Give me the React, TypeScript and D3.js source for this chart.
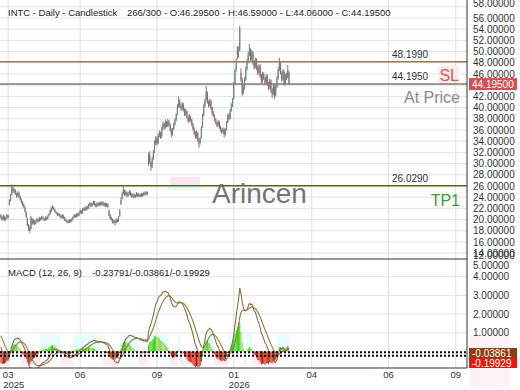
import React from "react";
import * as d3 from "d3";

const opens = [
  20.8, 20.3, 20.1, 20.5, 20.0, 20.3, 20.7, 22.8, 23.4, 24.5,
  25.6, 25.0, 25.2, 24.5, 24.3, 24.7, 24.1, 23.5, 23.1, 22.7,
  22.2, 21.3, 20.2, 18.9, 18.6, 18.4, 20.1, 19.4, 19.7, 19.3,
  19.7, 20.0, 19.8, 20.2, 20.1, 20.4, 20.1, 19.9, 20.3, 20.2,
  20.7, 21.1, 21.5, 22.0, 22.1, 21.7, 21.3, 21.1, 20.9, 20.9,
  20.6, 20.4, 20.7, 20.3, 20.0, 19.8, 19.7, 19.5, 19.9, 19.7,
  20.1, 20.4, 20.8, 20.5, 21.0, 20.7, 21.2, 21.6, 21.3, 21.7,
  22.0, 21.7, 22.3, 22.0, 22.6, 22.9, 22.4, 22.8, 23.2, 22.7,
  22.4, 22.9, 22.6, 23.0, 22.7, 23.1, 22.6, 22.9, 22.4, 22.8,
  21.6, 20.8, 20.3, 20.0, 19.6, 19.8, 19.4, 20.0, 19.8, 20.6,
  22.8, 23.8, 24.8, 25.1, 24.5, 24.8, 24.3, 24.6, 24.9, 24.4,
  24.1, 24.5, 24.0, 24.3, 24.7, 24.2, 24.5, 24.2, 24.6, 24.3,
  24.8, 24.5, 24.9, 30.0, 31.6, 30.0, 29.6, 30.9, 32.2, 33.6,
  34.4, 33.7, 35.0, 35.4, 34.9, 36.3, 37.0, 36.4, 37.4, 36.8,
  37.5, 36.9, 36.0, 35.3, 36.2, 37.0, 37.8, 38.8, 40.4, 41.0,
  40.2, 39.8, 40.5, 39.6, 38.8, 39.3, 38.2, 37.7, 38.3, 37.8,
  37.0, 36.2, 35.5, 34.8, 35.5, 34.2, 33.7, 34.7, 36.6, 38.6,
  40.4, 41.4, 42.6, 41.0, 40.4, 41.1, 39.9, 39.1, 38.5, 37.9,
  37.2, 36.8, 37.4, 36.5, 36.0, 35.6, 36.1, 35.2, 36.1, 37.4,
  38.6, 38.1, 39.6, 40.5, 41.6, 44.4, 46.7, 50.3, 49.6, 50.4,
  46.2, 45.0, 42.8, 43.6, 45.0, 46.9, 48.2, 49.5, 50.3, 48.7,
  49.8, 48.0, 47.3, 48.5, 47.1, 46.2, 47.4, 45.7, 44.8, 46.0,
  45.2, 44.5, 45.6, 44.2, 43.6, 44.8, 43.1, 42.4, 43.8, 42.3,
  43.7, 45.3, 46.8, 47.8, 46.1, 45.1, 46.4, 44.3, 45.7, 45.5, 46.295,
];
const highs = [
  21.0, 20.6, 20.9, 20.7, 20.5, 21.0, 20.9, 23.6, 24.6, 26.3,
  25.9, 25.6, 25.4, 24.8, 25.1, 24.9, 24.3, 23.8, 23.3, 22.9,
  22.4, 21.5, 20.4, 19.2, 18.9, 20.7, 20.3, 20.1, 19.9, 19.9,
  20.3, 20.2, 20.5, 20.4, 20.7, 20.6, 20.3, 20.6, 20.5, 20.8,
  21.2, 21.8, 22.3, 22.6, 22.3, 21.9, 21.5, 21.3, 21.2, 21.1,
  20.8, 21.0, 20.9, 20.5, 20.2, 20.0, 19.9, 20.1, 20.0, 20.3,
  20.6, 21.0, 20.9, 21.2, 21.1, 21.4, 21.8, 21.7, 22.0, 22.2,
  22.2, 22.5, 22.4, 22.8, 23.1, 23.0, 23.0, 23.4, 23.3, 22.9,
  23.1, 23.0, 23.2, 23.1, 23.3, 23.2, 23.1, 23.0, 23.0, 22.9,
  21.8, 21.0, 20.5, 20.2, 20.0, 19.9, 20.2, 20.2, 20.6, 21.9,
  24.0, 25.0, 26.0, 25.4, 25.2, 25.0, 24.9, 25.3, 25.1, 24.7,
  24.7, 24.6, 24.5, 24.9, 24.8, 24.7, 24.6, 24.8, 24.7, 25.0,
  25.0, 25.1, 25.0, 32.0, 32.2, 30.4, 31.2, 32.4, 34.2, 34.9,
  34.8, 35.4, 35.9, 35.7, 36.6, 37.5, 37.3, 37.9, 37.6, 38.0,
  37.8, 37.2, 36.3, 36.4, 37.3, 38.1, 39.0, 40.6, 42.0, 41.5,
  40.6, 41.0, 40.8, 39.9, 39.8, 39.5, 38.6, 38.8, 38.6, 38.0,
  37.3, 36.5, 35.8, 35.9, 35.7, 34.5, 34.8, 36.7, 38.9, 40.6,
  41.6, 43.9, 42.9, 41.3, 41.6, 41.4, 40.2, 39.4, 38.8, 38.1,
  37.5, 37.8, 37.6, 36.8, 36.3, 36.5, 36.4, 36.3, 37.6, 38.9,
  39.0, 39.8, 40.8, 41.7, 44.6, 46.9, 48.8, 51.0, 50.9, 54.6,
  47.0, 45.4, 44.0, 45.4, 47.3, 48.6, 50.0, 51.4, 50.6, 50.3,
  50.1, 48.5, 48.9, 48.8, 47.5, 47.8, 47.7, 46.0, 46.4, 46.3,
  45.5, 46.0, 45.9, 44.6, 45.2, 45.0, 43.5, 44.2, 44.1, 44.0,
  45.6, 47.2, 48.9, 48.1, 46.5, 46.9, 46.7, 46.0, 46.2, 47.6, 46.59,
];
const lows = [
  20.1, 19.8, 19.9, 19.7, 19.8, 20.1, 20.2, 22.5, 23.2, 24.3,
  24.8, 24.7, 24.4, 23.9, 24.1, 23.8, 23.4, 22.8, 22.4, 22.0,
  21.3, 20.3, 18.8, 18.0, 17.6, 18.2, 19.0, 19.2, 19.0, 19.1,
  19.5, 19.5, 19.6, 19.8, 19.9, 20.0, 19.7, 19.8, 19.9, 20.0,
  20.5, 20.9, 21.3, 21.8, 21.6, 21.2, 21.0, 20.6, 20.7, 20.4,
  20.2, 20.2, 20.1, 19.8, 19.6, 19.4, 19.3, 19.4, 19.5, 19.6,
  19.9, 20.3, 20.3, 20.4, 20.5, 20.6, 21.0, 21.0, 21.1, 21.6,
  21.5, 21.6, 21.8, 21.9, 22.4, 22.2, 22.3, 22.6, 22.5, 22.2,
  22.2, 22.4, 22.4, 22.5, 22.5, 22.4, 22.4, 22.2, 22.3, 22.1,
  20.6, 20.0, 19.8, 19.3, 19.3, 18.9, 19.3, 19.5, 19.6, 20.5,
  22.6, 23.6, 24.5, 24.2, 24.3, 24.0, 24.1, 24.4, 24.2, 23.9,
  23.9, 23.8, 23.9, 24.1, 24.0, 24.0, 24.0, 24.0, 24.1, 24.2,
  24.3, 24.4, 24.4, 29.6, 29.9, 28.7, 29.2, 30.6, 31.9, 33.3,
  33.2, 33.5, 34.7, 34.4, 34.6, 36.0, 36.1, 36.2, 36.5, 36.5,
  36.6, 35.7, 34.7, 35.0, 36.0, 36.8, 37.5, 38.6, 40.0, 39.9,
  39.4, 39.5, 39.3, 38.5, 38.5, 38.0, 37.2, 37.4, 37.5, 36.7,
  35.9, 35.1, 34.4, 34.5, 33.9, 32.8, 33.4, 34.5, 36.4, 38.4,
  40.0, 41.1, 40.7, 40.0, 40.2, 39.6, 38.6, 38.3, 37.6, 37.0,
  36.5, 36.6, 36.2, 35.7, 35.3, 35.4, 34.6, 35.0, 35.9, 37.2,
  37.7, 37.9, 39.3, 40.1, 41.4, 44.2, 46.4, 48.6, 48.9, 50.0,
  44.6, 42.0, 42.3, 43.2, 44.7, 46.6, 47.9, 49.2, 48.2, 48.4,
  47.6, 46.8, 47.0, 46.7, 45.8, 45.9, 45.3, 44.3, 44.5, 44.9,
  44.0, 44.2, 43.9, 43.1, 43.3, 42.6, 41.7, 42.2, 41.5, 42.0,
  43.5, 45.0, 46.5, 45.9, 44.6, 44.8, 43.9, 44.0, 44.9, 45.2, 44.06,
];
const closes = [
  20.3, 20.0, 20.6, 19.9, 20.2, 20.8, 20.4, 23.2, 24.3, 25.8,
  25.0, 25.3, 24.6, 24.2, 24.8, 24.0, 23.6, 23.0, 22.6, 22.3,
  21.5, 20.5, 19.0, 18.3, 18.0, 20.4, 19.3, 19.8, 19.2, 19.6,
  20.1, 19.7, 20.3, 20.0, 20.5, 20.2, 19.9, 20.4, 20.1, 20.6,
  21.0, 21.6, 22.0, 22.2, 21.8, 21.4, 21.2, 20.8, 21.0, 20.6,
  20.4, 20.8, 20.3, 20.0, 19.8, 19.6, 19.5, 19.9, 19.7, 20.1,
  20.4, 20.8, 20.5, 21.0, 20.7, 21.2, 21.6, 21.2, 21.8, 22.0,
  21.7, 22.3, 22.0, 22.6, 22.9, 22.4, 22.8, 23.2, 22.7, 22.4,
  22.9, 22.6, 23.0, 22.7, 23.1, 22.6, 22.9, 22.4, 22.8, 22.3,
  20.8, 20.2, 20.0, 19.6, 19.8, 19.4, 20.0, 19.7, 20.4, 21.6,
  23.5, 24.6, 25.3, 24.4, 24.9, 24.2, 24.6, 25.0, 24.4, 24.1,
  24.5, 24.0, 24.3, 24.7, 24.2, 24.5, 24.2, 24.6, 24.3, 24.8,
  24.5, 24.9, 24.6, 31.4, 30.2, 29.4, 30.8, 32.0, 33.8, 34.5,
  33.6, 35.0, 35.5, 34.8, 36.2, 37.0, 36.5, 37.4, 36.8, 37.6,
  36.9, 36.0, 35.2, 36.1, 37.0, 37.8, 38.6, 40.2, 41.0, 40.3,
  39.8, 40.6, 39.6, 38.8, 39.4, 38.2, 37.6, 38.4, 37.8, 37.0,
  36.2, 35.4, 34.8, 35.6, 34.2, 33.6, 34.5, 36.4, 38.5, 40.3,
  41.2, 42.8, 41.0, 40.3, 41.2, 39.8, 39.0, 38.6, 37.8, 37.2,
  36.8, 37.5, 36.4, 36.0, 35.6, 36.2, 35.2, 36.0, 37.4, 38.6,
  38.0, 39.5, 40.4, 41.2, 44.2, 46.5, 47.8, 49.5, 50.2, 54.2,
  45.0, 42.6, 43.5, 45.0, 46.8, 48.2, 49.5, 50.4, 48.6, 49.8,
  48.0, 47.2, 48.5, 47.0, 46.2, 47.4, 45.6, 44.8, 46.0, 45.2,
  44.4, 45.6, 44.2, 43.5, 44.8, 43.0, 42.5, 43.8, 42.2, 43.6,
  45.2, 46.8, 47.9, 46.2, 45.0, 46.5, 44.2, 45.6, 45.4, 46.8, 44.195,
];
// closes before the visible window, only used to settle the MACD averages
const warmupCloses = [
  19.6, 19.3, 19.5, 19.2, 19.4, 19.8, 19.5, 19.9, 20.3, 20.8,
  21.2, 21.0, 20.4, 19.9, 19.6, 19.8, 19.4, 19.2, 19.5, 19.7,
  20.6, 22.0, 23.9, 25.6, 26.8, 27.0, 26.3, 25.8, 25.2, 24.8,
  24.2, 23.9, 23.4, 22.6, 21.8, 21.0,
];

const tickBars = [6, 66, 130, 194, 259, 323, 379];
const tickMonths = ["03", "06", "09", "01", "04", "06", "09"];
const tickYears = ["2025", "", "", "2026", "", "", ""];
const priceTicks = [12, 14, 16, 18, 20, 22, 24, 26, 28, 30, 32, 34, 36, 38, 40, 42, 44, 46, 48, 50, 52, 54, 56, 58];
const macdTicks = [1, 2, 3, 4, 5];
const levelValues = [48.199, 44.195, 26.029];
const levelLabels = ["48.1990", "44.1950", "26.0290"];
const lastPrice = 44.195;
const macdLast = -0.03861;
const signalLast = -0.19929;
const headerTitle = "INTC - Daily - Candlestick";
const headerInfo = "266/300 - O:46.29500 - H:46.59000 - L:44.06000 - C:44.19500";
const macdTitle = "MACD (12, 26, 9)";
const macdInfo = "-0.23791/-0.03861/-0.19929";

function ema(values: number[], n: number): number[] {
  const k = 2 / (n + 1);
  const out: number[] = [];
  let prev = values[0];
  values.forEach((v, i) => {
    prev = i === 0 ? v : v * k + prev * (1 - k);
    out.push(prev);
  });
  return out;
}

const FONT = "'Liberation Sans', Arial, sans-serif";

export default function App() {
  const W = 520, H = 390;
  const PR = 467; // panel right
  const MB = 259; // main bottom
  const DB = 368; // macd bottom

  const x = d3.scaleLinear().domain([0, 388]).range([0.96, 466.56]);
  const y = d3.scaleLinear().domain([14, 56]).range([253.2, 18]);
  const my = d3.scaleLinear().domain([0, 4]).range([351.5, 276.7]);

  const all = warmupCloses.concat(closes);
  const e12 = ema(all, 12);
  const e26 = ema(all, 26);
  const macdAll = e12.map((v, i) => v - e26[i]);
  const sigAll = ema(macdAll, 9);
  const off = warmupCloses.length;
  const macd = macdAll.slice(off);
  const signal = sigAll.slice(off);
  const hist = macd.map((v, i) => v - signal[i]);
  const histAll = macdAll.map((v, i) => v - sigAll[i]);

  const idx = closes.map((_, i) => i);
  const macdLine = d3.line<number>().x((i) => x(i)).y((i) => my(macd[i]))(idx) || "";
  const sigLine = d3.line<number>().x((i) => x(i)).y((i) => my(signal[i]))(idx) || "";

  const runs: { s: number; e: number; pos: boolean }[] = [];
  hist.forEach((h, i) => {
    const pos = h >= 0;
    const last = runs[runs.length - 1];
    if (last && last.pos === pos) last.e = i;
    else runs.push({ s: i, e: i, pos });
  });

  const histColor = (i: number) => {
    const h = hist[i];
    const prev = histAll[i + off - 1];
    if (h >= 0) return h >= prev ? "#2fd400" : "#8fcf4f";
    return h <= prev ? "#e02000" : "#8b2000";
  };

  const zeroY = my(0);

  return (
    <div style={{ position: "fixed", left: 0, top: 0, width: W, height: H, background: "#fff" }}>
      <svg width={W} height={H} style={{ display: "block", fontFamily: FONT }}>
        <defs>
          <clipPath id="mainClip">
            <rect x={0} y={0} width={PR} height={MB} />
          </clipPath>
          <clipPath id="macdClip">
            <rect x={0} y={MB} width={PR} height={DB - MB} />
          </clipPath>
        </defs>
        <rect x={0} y={0} width={W} height={H} fill="#fff" />

        <g clipPath="url(#mainClip)">
          {priceTicks.map((p) => (
            <line key={"g" + p} x1={0} x2={PR} y1={y(p)} y2={y(p)} stroke="#e3e3e3" strokeWidth={1} />
          ))}
        </g>
        {macdTicks.slice(0, 4).map((m) => (
          <line key={"mg" + m} x1={0} x2={PR} y1={my(m)} y2={my(m)} stroke="#e3e3e3" strokeWidth={1} />
        ))}
        {tickBars.map((b) => (
          <line key={"v" + b} x1={x(b)} x2={x(b)} y1={0} y2={DB} stroke="#dedede" strokeWidth={1} />
        ))}

        <rect x={170} y={177} width={30} height={8} fill="#fbd9ea" opacity={0.7} />
        <rect x={168} y={185} width={33} height={5} fill="#d9f8f8" opacity={0.7} />
        <rect x={438} y={66} width={21} height={17} fill="#fce6ee" opacity={0.8} />

        <text x={212} y={203} fontSize={28} fill="#5c5c5c" opacity={0.85}>Arincen</text>

        <g clipPath="url(#mainClip)">
          {levelValues.map((v, i) => (
            <line key={"l" + i} x1={0} x2={PR} y1={y(v)} y2={y(v)}
              stroke={["#9c7a4e", "#85766a", "#4e6a2a"][i]} strokeWidth={1.5} />
          ))}
        </g>
        {levelValues.map((v, i) => (
          <text key={"lt" + i} x={392} y={y(v) - 4} fontSize={10} fill="#333">{levelLabels[i]}</text>
        ))}
        <text x={459} y={y(levelValues[1]) - 3.5} fontSize={16} textAnchor="end" fill="#d4604a">SL</text>
        <text x={460} y={y(levelValues[1]) + 18.5} fontSize={16} textAnchor="end" fill="#8a8a8a">At Price</text>
        <text x={460} y={y(levelValues[2]) + 20} fontSize={16} textAnchor="end" fill="#3d9a3d">TP1</text>

        <g clipPath="url(#mainClip)">
          {closes.map((c, i) => {
            const o = opens[i];
            const up = c >= o;
            const top = y(Math.max(o, c));
            const bot = y(Math.min(o, c));
            return (
              <g key={"c" + i}>
                <line x1={x(i)} x2={x(i)} y1={y(highs[i])} y2={y(lows[i])} stroke="#7c7c7c" strokeWidth={1} />
                <rect x={x(i) - 0.5} y={top} width={1} height={Math.max(bot - top, 0.8)}
                  fill={up ? "#5f8c76" : "#a06464"} />
              </g>
            );
          })}
        </g>

        <g clipPath="url(#macdClip)">
          {runs.map((r, k) => (
            <rect key={"r" + k} x={x(r.s) - 0.6} width={x(r.e) - x(r.s) + 1.2}
              y={r.pos ? zeroY - 17 : zeroY} height={r.pos ? 17 : 14}
              fill={r.pos ? "#e6fbfb" : "#fdebf3"} />
          ))}
          {hist.map((h, i) => (
            <rect key={"h" + i} x={x(i) - 0.5} width={1}
              y={Math.min(my(h), zeroY)} height={Math.abs(my(h) - zeroY)} fill={histColor(i)} />
          ))}
          <path d={sigLine} fill="none" stroke="#7f8142" strokeWidth={1.1} />
          <path d={macdLine} fill="none" stroke="#946c3c" strokeWidth={1.1} />
          <line x1={0} x2={PR} y1={my(macdLast)} y2={my(macdLast)} stroke="#000" strokeWidth={2} strokeDasharray="2,2" />
          <line x1={0} x2={PR} y1={my(signalLast) + 0.5} y2={my(signalLast) + 0.5} stroke="#000" strokeWidth={2} strokeDasharray="2,2" />
        </g>

        <line x1={PR} x2={PR} y1={0} y2={DB} stroke="#333" strokeWidth={1} />
        <line x1={0} x2={PR} y1={MB} y2={MB} stroke="#333" strokeWidth={1} />
        <line x1={0} x2={PR} y1={DB} y2={DB} stroke="#333" strokeWidth={1} />

        {priceTicks.map((p) => {
          const yy = p === 12 ? 255.5 : p === 58 ? 3.5 : y(p);
          return (
            <text key={"pt" + p} x={473} y={yy} fontSize={10} fill="#333" dominantBaseline="central">
              {p.toFixed(5)}
            </text>
          );
        })}
        <rect x={469} y={y(lastPrice) - 6} width={48} height={12} fill="#d44f4f" />
        <text x={472} y={y(lastPrice)} fontSize={10} fill="#fff" dominantBaseline="central">
          {lastPrice.toFixed(5)}
        </text>

        <rect x={470} y={335} width={40} height={52} fill="#fdeaf4" opacity={0.7} />
        {macdTicks.map((m) => {
          const yy = m === 5 ? 265 : my(m);
          return (
            <text key={"mt" + m} x={473} y={yy} fontSize={10} fill="#333" dominantBaseline="central">
              {m.toFixed(5)}
            </text>
          );
        })}
        <rect x={469} y={348} width={48} height={10} fill="#8b3f12" />
        <text x={472} y={353} fontSize={10} fill="#fff" dominantBaseline="central">{macdLast.toFixed(5)}</text>
        <rect x={469} y={358} width={48} height={10} fill="#e61a0e" />
        <text x={472} y={363} fontSize={10} fill="#fff" dominantBaseline="central">{signalLast.toFixed(5)}</text>

        {tickBars.map((b, i) => (
          <g key={"xt" + b}>
            <text x={x(b)} y={378} fontSize={9.5} fill="#333" textAnchor="middle">{tickMonths[i]}</text>
            {tickYears[i] && (
              <text x={x(b) - 5} y={388} fontSize={9.5} fill="#333">{tickYears[i]}</text>
            )}
          </g>
        ))}

        <text x={8} y={15.5} fontSize={9.5} fill="#222">{headerTitle}</text>
        <text x={127} y={15.5} fontSize={9.5} fill="#222">{headerInfo}</text>
        <text x={8} y={275.5} fontSize={9.5} fill="#222">{macdTitle}</text>
        <text x={92} y={275.5} fontSize={9.5} fill="#222">{macdInfo}</text>
      </svg>
    </div>
  );
}
